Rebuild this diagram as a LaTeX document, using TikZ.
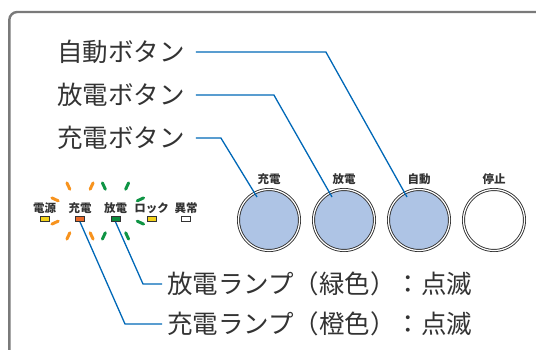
\documentclass[tikz,border=0pt]{standalone}
\usepackage{fontspec}
\setmainfont{Noto Sans CJK JP}
\usetikzlibrary{positioning,calc}

\definecolor{leadblue}{HTML}{0068B7}
\definecolor{btnblue}{HTML}{AEC4E5}
\definecolor{framegray}{HTML}{7A7A7A}
\definecolor{inkgray}{HTML}{333333}
\definecolor{ledyellow}{HTML}{F3D21B}
\definecolor{ledorange}{HTML}{EA6A2A}
\definecolor{ledgreen}{HTML}{0A8B3C}
\definecolor{flashorange}{HTML}{F7931E}
\definecolor{flashgreen}{HTML}{0E9444}

\tikzset{
  lead/.style={leadblue, line width=1.3pt},
  biglabel/.style={inkgray, inner sep=0pt, anchor=west, font=\fontsize{25.5}{30}\selectfont},
  smalllabel/.style={inkgray, inner sep=0pt, font=\fontsize{11.5}{13}\selectfont\bfseries},
  btn/.style={circle, minimum size=61pt, inner sep=0pt, draw=inkgray, line width=0.9pt,
    double=white, double distance=1.2pt, fill=btnblue},
  led/.style={rectangle, minimum width=9pt, minimum height=5pt, inner sep=0pt,
    draw=inkgray, line width=0.8pt},
  flash/.style={line width=3pt, line cap=round},
}

\begin{document}
\begin{tikzpicture}[x=1pt,y=-1pt]
    \useasboundingbox (0,0) rectangle (536,350);
    \clip (0,0) rectangle (536,350);

    % Panel frame
    \draw[framegray, line width=2.4pt, rounded corners=8pt] (9.3,360) -- (9.3,12) -- (546,12);

    % Buttons
    \node[btn] (b1) at (269,220) {};
    \node[btn] (b2) at (344,220) {};
    \node[btn] (b3) at (419,220) {};
    \node[btn, fill=white] (b4) at (494,220) {};
    \foreach \b/\t in {b1/充電, b2/放電, b3/自動, b4/停止}
        \node[smalllabel, above=4pt of \b] (\b-lab) {\t};
    \foreach \b in {b1,b2,b3}
        \coordinate (\b-tip) at ([shift={(-12,-23)}]\b.center);

    % Button callouts
    \node[biglabel] (lauto) at (57,52) {自動ボタン};
    \node[biglabel] (ldis) at (57,95) {放電ボタン};
    \node[biglabel] (lchg) at (57,138) {充電ボタン};
    \draw[lead] ([xshift=11pt]lauto.east) -- ([xshift=141pt]lauto.east) -- (b3-tip);
    \draw[lead] ([xshift=11pt]ldis.east) -- ([xshift=89pt]ldis.east) -- (b2-tip);
    \draw[lead] ([xshift=11pt]lchg.east) -- ([xshift=36pt]lchg.east) -- (b1-tip);

    % Lamps
    \foreach \n/\x/\c/\t in {1/44.5/ledyellow/電源, 2/80/ledorange/充電, 3/115.5/ledgreen/放電,
                             4/151.5/ledyellow/ロック, 5/186/white/異常} {
        \node[led, fill=\c] (l\n) at (\x,219) {};
        \node[smalllabel, above=2.5pt of l\n] (l\n-lab) {\t};
    }

    % Blinking marks
    \coordinate (c2) at ([shift={(0,-8)}]l2.center);
    \coordinate (c3) at ([shift={(0,-8)}]l3.center);
    \foreach \a in {65,115,155,205,245,295}
        \draw[flash, flashorange] ($(c2)+(\a:24)$) -- ($(c2)+(\a:31)$);
    \foreach \a in {-25,25,65,115,245,295}
        \draw[flash, flashgreen] ($(c3)+(\a:24)$) -- ($(c3)+(\a:31)$);

    % Lamp callouts
    \node[biglabel] (lgreen) at (167,284) {放電ランプ（緑色）：点滅};
    \node[biglabel] (lorange) at (167,324) {充電ランプ（橙色）：点滅};
    \draw[lead] (l3.south) -- ([xshift=-24pt]lgreen.west) -- ([xshift=-5pt]lgreen.west);
    \draw[lead] (l2.south) -- ([xshift=-42pt]lorange.west) -- ([xshift=-5pt]lorange.west);
\end{tikzpicture}
\end{document}
